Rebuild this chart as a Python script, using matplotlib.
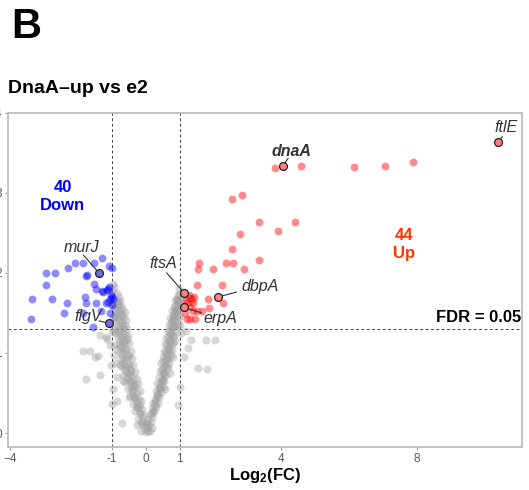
import matplotlib
matplotlib.use("Agg")
import matplotlib.pyplot as plt

plt.rcParams['font.family'] = ['Liberation Sans', 'DejaVu Sans']
plt.rcParams['mathtext.fontset'] = 'custom'
plt.rcParams['mathtext.rm'] = 'Liberation Sans:bold'
plt.rcParams['mathtext.it'] = 'Liberation Sans:bold'

# significant up-regulated genes (log2 FC, -log10 FDR)
up_x = [3.82, 4.58, 6.14, 7.05, 7.88,
        2.55, 2.83, 3.34, 4.41, 3.90, 2.78, 2.55, 2.38, 2.57, 3.33, 2.89,
        1.58, 1.55, 1.99, 1.52, 2.25,
        1.83, 2.28, 1.88, 1.65,
        1.31, 1.37, 1.23, 1.39, 1.21, 1.45, 1.32, 1.50, 1.27, 1.40, 1.18,
        1.15, 1.30, 1.44]
up_y = [3.31, 3.33, 3.32, 3.33, 3.38,
        2.92, 2.97, 2.63, 2.64, 2.52, 2.48, 2.30, 2.12, 2.12, 2.16, 2.05,
        2.12, 2.05, 2.05, 1.85, 1.85,
        1.67, 1.63, 1.56, 1.53,
        1.69, 1.68, 1.63, 1.53, 1.43, 1.43, 1.42, 1.53, 1.72, 1.62, 1.66,
        1.50, 1.58, 1.70]

# significant down-regulated genes
down_x = [-1.30, -1.07, -0.99, -1.86, -2.09, -2.30, -1.76, -2.95, -2.68, -2.94,
          -1.53, -1.47, -1.30, -1.12, -0.99, -1.05, -0.97, -1.17, -3.35, -2.76,
          -2.33, -1.80, -1.77, -1.45, -2.40, -3.39, -1.84, -1.56, -1.05, -1.32,
          -1.52, -1.07, -1.10, -1.00, -1.25, -1.02, -1.72, -1.15]
down_y = [2.18, 2.09, 2.06, 2.12, 2.12, 2.06, 1.96, 2.00, 2.00, 1.85,
          1.86, 1.80, 1.78, 1.80, 1.70, 1.67, 1.68, 1.62, 1.68, 1.68,
          1.62, 1.70, 1.62, 1.62, 1.50, 1.43, 1.50, 1.32, 1.50, 1.52,
          2.12, 1.83, 1.64, 1.60, 1.76, 1.72, 1.97, 1.79]

# genes called out by name
gene_names = ['ftlE', 'dnaA', 'ftsA', 'dbpA', 'erpA', 'murJ', 'flgV']
gene_x = [10.38, 4.04, 1.14, 2.14, 1.13, -1.38, -1.07]
gene_y = [3.63, 3.33, 1.75, 1.70, 1.57, 2.00, 1.37]
gene_dir = ['up', 'up', 'up', 'up', 'up', 'down', 'down']

# non-significant genes: left arm, right arm, scattered
ns_x = [0.02, 0.07, -0.03, 0.05, -0.08, -0.15, 0.00, -0.22, -0.12, -0.05, -0.18,
        -0.30, -0.24, -0.10, -0.16, -0.38, -0.29, -0.20, -0.13, -0.45, -0.36,
        -0.26, -0.18, -0.52, -0.42, -0.31, -0.22, -0.60, -0.49, -0.38, -0.27,
        -0.66, -0.55, -0.44, -0.32, -0.70, -0.60, -0.49, -0.37, -0.74, -0.64,
        -0.53, -0.41, -0.77, -0.67, -0.57, -0.44, -0.80, -0.71, -0.60, -0.48,
        -0.83, -0.73, -0.62, -0.51, -0.86, -0.76, -0.66, -0.55, -0.88, -0.79,
        -0.69, -0.58, -0.90, -0.81, -0.71, -0.62, -0.92, -0.83, -0.73, -0.90,
        -0.80, -0.95,
        -0.10, -0.27, -0.34, -0.40, -0.47, -0.55, -0.61, -0.66, -0.70, -0.73,
        -0.77, -0.79, -0.83, -0.86, -0.87, -0.86, -0.35, -0.43, -0.47, -0.50,
        -0.55, -0.60, -0.66, -0.69, -0.76, -0.85, -0.92, -0.96, -0.97, -0.98,
        -0.94, -0.92, -0.88, -0.85,
        -0.17, -0.25, -0.31, -0.37, -0.43, -0.49, -0.53, -0.58, -0.61, -0.64,
        -0.68, -0.71, -0.75, -0.78, -0.83, -0.50, -0.66, -0.76, -0.84, -0.90,
        -0.94, -0.25, -0.15,
        0.10, 0.16, 0.08, 0.20, 0.13, 0.25, 0.18, 0.30, 0.23, 0.36, 0.27, 0.40,
        0.33, 0.45, 0.30, 0.38, 0.50, 0.43, 0.34, 0.55, 0.47, 0.39, 0.60, 0.51,
        0.43, 0.65, 0.55, 0.46, 0.70, 0.60, 0.50, 0.74, 0.64, 0.54, 0.78, 0.68,
        0.58, 0.82, 0.72, 0.61, 0.85, 0.75, 0.65, 0.88, 0.78, 0.69, 0.91, 0.82,
        0.73, 0.94, 0.86, 0.78, 0.96, 0.88, 0.98, 0.91, 0.99,
        0.05, 0.22, 0.28, 0.35, 0.42, 0.50, 0.55, 0.62, 0.67, 0.71, 0.76, 0.80,
        0.84, 0.88, 0.91, 0.94, 0.95, 0.97, 0.48, 0.52, 0.57, 0.62, 0.66, 0.70,
        0.76, 0.80, 0.84, 0.87, 1.02, 1.03, 1.00, 1.08,
        0.19, 0.27, 0.34, 0.41, 0.47, 0.53, 0.58, 0.63, 0.67, 0.70, 0.74, 0.80,
        0.85, 0.90, 0.94, 0.58, 0.71, 0.80, 0.87, 0.94, 0.18, 0.12,
        -1.84, -1.64, -1.42, -1.76, -1.35, -1.35, -1.15, -0.96, -0.98, -1.50,
        -1.00, -0.69, -1.17, -1.05, -0.95, -0.85, -1.02,
        1.55, 1.80, 1.77, 2.04, 1.33, 1.26, 0.77, 1.01, 0.91, 0.86, 1.05, 1.12,
        0.95, 1.20]
ns_y = [0.01, 0.03, 0.05, 0.08, 0.10, 0.12, 0.13, 0.18, 0.20, 0.22, 0.25,
        0.27, 0.31, 0.30, 0.35, 0.36, 0.40, 0.42, 0.40, 0.46, 0.48,
        0.50, 0.52, 0.55, 0.57, 0.59, 0.61, 0.64, 0.66, 0.68, 0.67,
        0.73, 0.75, 0.77, 0.76, 0.82, 0.84, 0.86, 0.85, 0.92, 0.93,
        0.95, 0.94, 1.01, 1.03, 1.05, 1.03, 1.10, 1.12, 1.13, 1.12,
        1.19, 1.21, 1.22, 1.21, 1.28, 1.30, 1.31, 1.30, 1.38, 1.40,
        1.39, 1.41, 1.48, 1.50, 1.49, 1.51, 1.58, 1.60, 1.59, 1.68,
        1.70, 1.76,
        0.15, 0.33, 0.44, 0.52, 0.62, 0.70, 0.79, 0.88, 0.97, 1.07,
        1.16, 1.25, 1.34, 1.44, 1.54, 1.64, 0.60, 0.72, 0.80, 0.98,
        1.17, 1.35, 1.45, 1.55, 1.65, 1.75, 1.82, 1.30, 1.45, 1.60,
        1.10, 0.98, 0.88, 0.70,
        0.25, 0.35, 0.45, 0.55, 0.65, 0.75, 0.85, 0.95, 1.05, 1.15,
        1.25, 1.35, 1.45, 1.55, 1.65, 0.45, 0.65, 0.85, 1.05, 1.25,
        1.45, 0.10, 0.03,
        0.10, 0.14, 0.17, 0.20, 0.24, 0.27, 0.31, 0.33, 0.37, 0.38, 0.43, 0.45,
        0.48, 0.51, 0.53, 0.56, 0.58, 0.61, 0.62, 0.65, 0.68, 0.70, 0.73, 0.76,
        0.78, 0.81, 0.84, 0.87, 0.88, 0.92, 0.95, 0.97, 1.00, 1.03, 1.05, 1.08,
        1.11, 1.13, 1.16, 1.19, 1.21, 1.24, 1.27, 1.29, 1.32, 1.35, 1.37, 1.41,
        1.44, 1.46, 1.50, 1.53, 1.55, 1.59, 1.64, 1.68, 1.73,
        0.12, 0.28, 0.39, 0.49, 0.57, 0.66, 0.74, 0.84, 0.93, 1.02, 1.12, 1.21,
        1.33, 1.43, 1.52, 1.62, 1.72, 1.80, 0.80, 0.90, 1.00, 1.10, 1.20, 1.28,
        1.38, 1.47, 1.57, 1.66, 1.45, 1.60, 1.35, 1.70,
        0.25, 0.35, 0.45, 0.55, 0.65, 0.75, 0.85, 0.95, 1.05, 1.15, 1.25, 1.35,
        1.45, 1.55, 1.65, 0.55, 0.75, 0.95, 1.15, 1.35, 0.06, 0.02,
        1.02, 1.02, 0.96, 0.68, 0.72, 1.23, 1.18, 1.86, 1.26, 0.95,
        0.36, 0.12, 1.20, 1.10, 0.55, 0.40, 0.85,
        0.81, 0.80, 1.16, 1.16, 1.16, 1.06, 1.41, 0.58, 1.66, 1.52, 1.25, 0.95,
        0.35, 1.28]

fdr_cut = 0.05
fc_cut = 1

# label text positions for the named genes
label_pos = {
    'ftlE': (10.62, 3.81), 'dnaA': (4.30, 3.52), 'ftsA': (0.52, 2.12),
    'dbpA': (3.37, 1.83), 'erpA': (2.19, 1.43), 'murJ': (-1.89, 2.32),
    'flgV': (-1.70, 1.45),
}
line_end = {
    'ftlE': (10.52, 3.70), 'dnaA': (4.20, 3.43), 'ftsA': (0.62, 2.00),
    'dbpA': (2.68, 1.76), 'erpA': (1.65, 1.50), 'murJ': (-1.83, 2.22),
    'flgV': (-1.37, 1.40),
}

red = '#ff0000'
blue = '#0000ff'

fig = plt.figure(figsize=(5.29, 4.90), dpi=100)
ax = fig.add_axes([8 / 529, 1 - 446.7 / 490, 514 / 529, 334 / 490])

ax.scatter(ns_x, ns_y, s=34, color='#9e9e9e', alpha=0.4, linewidths=0, zorder=2)
ax.scatter(down_x, down_y, s=32, color=blue, alpha=0.45, linewidths=0, zorder=3)
ax.scatter(up_x, up_y, s=32, color=red, alpha=0.45, linewidths=0, zorder=3)

for name, gx, gy, d in zip(gene_names, gene_x, gene_y, gene_dir):
    fc = '#ff8080' if d == 'up' else '#6f6fe8'
    ax.scatter([gx], [gy], s=32, facecolor=fc, edgecolor='#222222',
               linewidths=0.9, zorder=5)
    lx, ly = label_pos[name]
    ex, ey = line_end[name]
    ax.plot([gx, ex], [gy, ey], color='#333333', lw=0.8, zorder=4)
    ax.text(lx, ly, name, style='italic', fontsize=11.5, color='#333333',
            fontweight='bold' if name == 'dnaA' else 'normal',
            ha='center', va='center', zorder=6)

dash = (0, (3, 2.5))
ax.axvline(-fc_cut, color='#444444', lw=0.7, ls=dash, zorder=1)
ax.axvline(fc_cut, color='#444444', lw=0.7, ls=dash, zorder=1)
ax.axhline(1.30103, color='#444444', lw=0.7, ls=dash, zorder=1)

n_down = len(down_x) + gene_dir.count('down')
n_up = len(up_x) + gene_dir.count('up')
ax.text(-2.44, 2.95, f'{n_down}\nDown', color=blue, fontsize=12,
        fontweight='bold', ha='center', va='center', linespacing=1.25)
ax.text(7.62, 2.36, f'{n_up}\nUp', color='#ff3300', fontsize=12,
        fontweight='bold', ha='center', va='center', linespacing=1.25)
ax.text(0.998, 1.44, f'FDR = {fdr_cut}', transform=ax.get_yaxis_transform(),
        fontsize=12, fontweight='bold', ha='right', va='center')

ax.set_xlim(-4.06, 11.10)
ax.set_ylim(-0.17, 4.0)
ax.set_xticks([-4, -1, 0, 1, 4, 8])
ax.set_xticklabels(['\u22124', '-1', '0', '1', '4', '8'])
ax.set_yticks([0, 1, 2, 3, 4])
ax.tick_params(colors='#9a9a9a', labelcolor='#5a5a5a', labelsize=8.5,
               length=2.5, width=0.8, pad=2)
for sp in ax.spines.values():
    sp.set_color('#bdbdbd')
    sp.set_linewidth(1.3)

fig.text(264.5 / 529, 1 - 480 / 490, r'Log$_2$(FC)', fontsize=12,
         fontweight='bold', ha='center', va='baseline')
fig.text(8 / 529, 1 - 93 / 490, 'DnaA\u2013up vs e2', fontsize=14,
         fontweight='bold', ha='left', va='baseline')
fig.text(11 / 529, 1 - 38 / 490, 'B', fontsize=30, fontweight='bold',
         ha='left', va='baseline')

fig.savefig('out.png', dpi=100)
